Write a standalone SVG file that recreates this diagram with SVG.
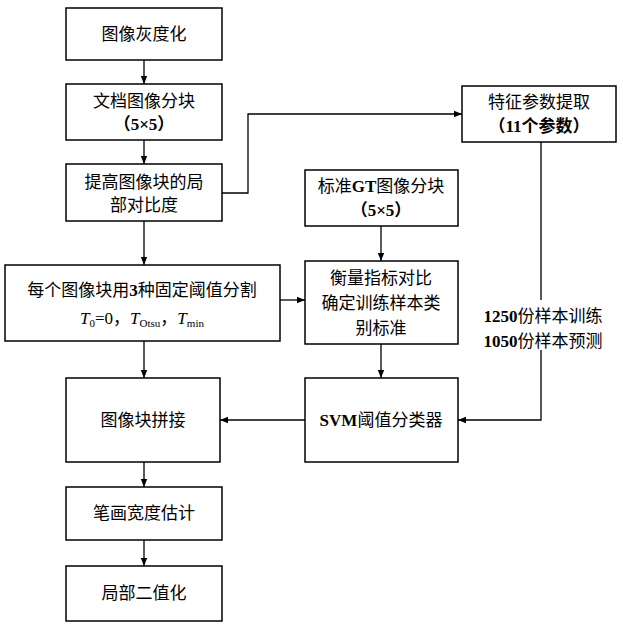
<svg xmlns="http://www.w3.org/2000/svg" width="623" height="631" viewBox="0 0 623 631">
<style>
rect{fill:#fff;stroke:#000;stroke-width:1.5}
text{font-family:"Liberation Serif","Noto Sans CJK SC",serif;font-size:17px;text-anchor:middle;fill:#000}
.c path{fill:none;stroke:#000;stroke-width:1.3;marker-end:url(#a)}
</style>
<defs><marker id="a" viewBox="0 0 10 10" refX="10" refY="5" markerWidth="8" markerHeight="8" orient="auto" markerUnits="userSpaceOnUse"><path d="M0,1 L10,5 L0,9 Z" fill="#000"/></marker></defs>
<rect x="0" y="0" width="623" height="631" style="stroke:none"/>
<g class="c">
<path d="M144,60 V84"/><path d="M144,140 V164"/><path d="M144,221 V265"/><path d="M144,341 V378"/><path d="M144,462 V487"/><path d="M144,540 V566"/>
<path d="M222,193 H248 V114 H462"/>
<path d="M280,300 H305"/>
<path d="M381,226 V261"/><path d="M381,344 V378"/>
<path d="M541,142 V420 H458"/>
<path d="M305,420 H220"/>
</g>
<g id="n1"><rect x="66" y="8" width="156" height="52"/><text x="144" y="40">图像灰度化</text></g>
<g id="n2"><rect x="66" y="84" width="156" height="56"/><text x="144" y="107">文档图像分块</text><text x="144" y="130" font-weight="bold">（5×5）</text></g>
<g id="n3"><rect x="66" y="164" width="156" height="57"/><text x="144" y="188">提高图像块的局</text><text x="144" y="211">部对比度</text></g>
<g id="n4"><rect x="5" y="265" width="275" height="76"/><text x="142" y="296">每个图像块用<tspan font-weight="bold">3</tspan>种固定阈值分割</text>
<text x="142" y="324" font-style="italic">T<tspan font-size="11" font-style="normal" dy="3">0</tspan><tspan font-style="normal" dy="-3">=0，</tspan>T<tspan font-size="11" font-style="normal" dy="3">Otsu</tspan><tspan font-style="normal" dy="-3">，</tspan>T<tspan font-size="11" font-style="normal" dy="3">min</tspan></text></g>
<g id="n5"><rect x="305" y="170" width="153" height="56"/><text x="381" y="192">标准<tspan font-weight="bold">GT</tspan>图像分块</text><text x="381" y="216" font-weight="bold">（5×5）</text></g>
<g id="n6"><rect x="305" y="261" width="153" height="83"/><text x="381" y="284">衡量指标对比</text><text x="381" y="309">确定训练样本类</text><text x="381" y="334">别标准</text></g>
<g id="n7"><rect x="462" y="86" width="154" height="56"/><text x="539" y="108">特征参数提取</text><text x="539" y="132" font-weight="bold">（11个参数）</text></g>
<g id="n8"><rect x="66" y="378" width="154" height="84"/><text x="143" y="426">图像块拼接</text></g>
<g id="n9"><rect x="305" y="378" width="153" height="84"/><text x="381" y="426"><tspan font-weight="bold">SVM</tspan>阈值分类器</text></g>
<g id="n10"><rect x="66" y="487" width="156" height="53"/><text x="144" y="519">笔画宽度估计</text></g>
<g id="n11"><rect x="66" y="566" width="156" height="55"/><text x="144" y="599">局部二值化</text></g>
<g id="lbl"><rect x="486" y="300" width="112" height="50" style="stroke:none"/><text x="543" y="322" font-size="16"><tspan font-weight="bold">1250</tspan>份样本训练</text><text x="543" y="347" font-size="16"><tspan font-weight="bold">1050</tspan>份样本预测</text></g>
</svg>
